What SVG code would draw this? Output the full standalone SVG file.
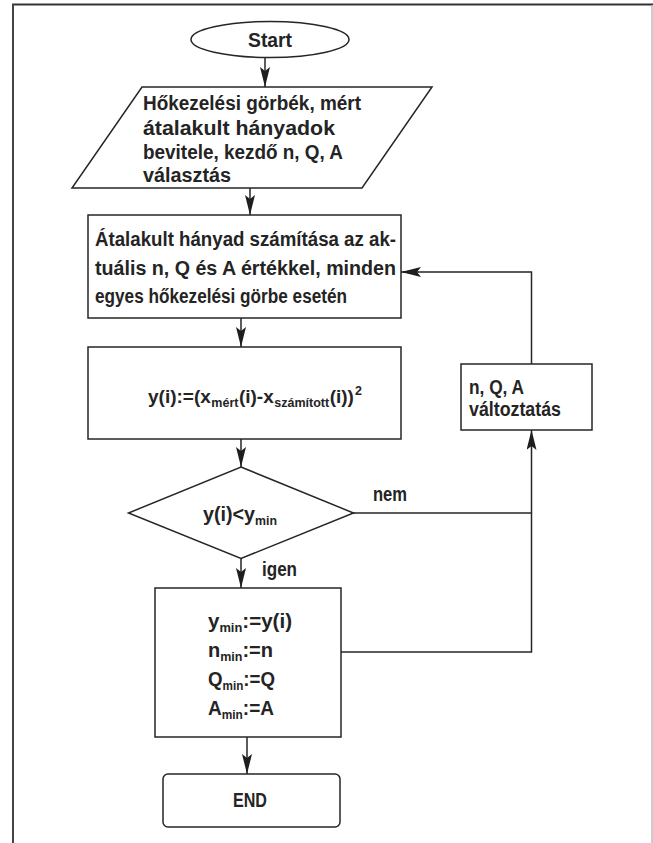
<svg xmlns="http://www.w3.org/2000/svg" width="653" height="843" viewBox="0 0 653 843">
<style>
.s{fill:#fff;stroke:#262626;stroke-width:1.5}
.c{fill:none;stroke:#262626;stroke-width:1.5}
.t{font-family:"Liberation Sans",Arial,sans-serif;font-weight:bold;font-size:20px;fill:#242424}
.f{font-size:19px}
.sub{font-size:12.5px}
</style>
<defs>
<marker id="ah" viewBox="0 0 20 10" refX="20" refY="5" markerWidth="20" markerHeight="10" markerUnits="userSpaceOnUse" orient="auto">
<path d="M0,0 L20,5 L0,10 L4,5 z" fill="#1e1e1e"/>
</marker>
</defs>
<rect x="0" y="0" width="653" height="843" fill="#fff"/>
<g id="frame">
<line x1="12" y1="4.5" x2="653" y2="4.5" stroke="#333" stroke-width="2"/>
<line x1="13" y1="4" x2="13" y2="843" stroke="#444" stroke-width="2"/>
<line x1="652" y1="5" x2="652" y2="843" stroke="#bbb" stroke-width="1.5"/>
</g>
<g id="connectors">
<line class="c" x1="265" y1="57.5" x2="265" y2="87" marker-end="url(#ah)"/>
<line class="c" x1="250" y1="188" x2="250" y2="215" marker-end="url(#ah)"/>
<line class="c" x1="241" y1="318" x2="241" y2="347" marker-end="url(#ah)"/>
<line class="c" x1="241" y1="439" x2="241" y2="467" marker-end="url(#ah)"/>
<line class="c" x1="241" y1="558" x2="241" y2="588" marker-end="url(#ah)"/>
<line class="c" x1="353" y1="513" x2="531.5" y2="513"/>
<polyline class="c" points="341,652 531.5,652 531.5,430" marker-end="url(#ah)"/>
<polyline class="c" points="531.5,364 531.5,272 401,272" marker-end="url(#ah)"/>
<line class="c" x1="247" y1="737" x2="247" y2="774" marker-end="url(#ah)"/>
<text class="t" x="373" y="501" textLength="34" lengthAdjust="spacingAndGlyphs">nem</text>
<text class="t" x="262" y="576" textLength="35" lengthAdjust="spacingAndGlyphs">igen</text>
</g>
<g id="start">
<ellipse class="s" cx="270" cy="39.5" rx="79" ry="18"/>
<text class="t" x="270" y="47" text-anchor="middle" textLength="44" lengthAdjust="spacingAndGlyphs">Start</text>
</g>
<g id="input">
<polygon class="s" points="142,87 432,87 362,188 72,188"/>
<text class="t" x="143" y="110" textLength="218" lengthAdjust="spacingAndGlyphs">Hőkezelési görbék, mért</text>
<text class="t" x="143" y="135" textLength="192" lengthAdjust="spacingAndGlyphs">átalakult hányadok</text>
<text class="t" x="143" y="159" textLength="200" lengthAdjust="spacingAndGlyphs">bevitele, kezdő n, Q, A</text>
<text class="t" x="143" y="182" textLength="88" lengthAdjust="spacingAndGlyphs">választás</text>
</g>
<g id="calc">
<rect class="s" x="88" y="215" width="313" height="103"/>
<text class="t" x="95" y="246" textLength="301" lengthAdjust="spacingAndGlyphs">Átalakult hányad számítása az ak-</text>
<text class="t" x="95" y="275" textLength="301" lengthAdjust="spacingAndGlyphs">tuális n, Q és A értékkel, minden</text>
<text class="t" x="95" y="303" textLength="252" lengthAdjust="spacingAndGlyphs">egyes hőkezelési görbe esetén</text>
</g>
<g id="error">
<rect class="s" x="88" y="347" width="313" height="92"/>
<text class="t f" x="148" y="403">y(i):=(x<tspan class="sub" dx="0.5" dy="4">mért</tspan><tspan dx="0.5" dy="-4">(i)-x</tspan><tspan class="sub" dx="0.5" dy="4">számított</tspan><tspan dx="0.5" dy="-4">(i))</tspan><tspan class="sub" dx="1" dy="-8">2</tspan></text>
</g>
<g id="change">
<rect class="s" x="461" y="364" width="131" height="66"/>
<text class="t" x="469" y="394" textLength="55" lengthAdjust="spacingAndGlyphs">n, Q, A</text>
<text class="t" x="469" y="416" textLength="92" lengthAdjust="spacingAndGlyphs">változtatás</text>
</g>
<g id="decision">
<polygon class="s" points="241,467 353.5,513 241,558.5 128.5,513"/>
<text class="t" x="203" y="521" textLength="74" lengthAdjust="spacingAndGlyphs">y(i)&lt;y<tspan class="sub" dy="4">min</tspan></text>
</g>
<g id="store">
<rect class="s" x="155" y="588" width="186" height="149"/>
<text class="t" x="208" y="628" textLength="84" lengthAdjust="spacingAndGlyphs">y<tspan class="sub" dy="4">min</tspan><tspan dy="-4">:=y(i)</tspan></text>
<text class="t" x="208" y="657" textLength="65" lengthAdjust="spacingAndGlyphs">n<tspan class="sub" dy="4">min</tspan><tspan dy="-4">:=n</tspan></text>
<text class="t" x="208" y="686" textLength="67" lengthAdjust="spacingAndGlyphs">Q<tspan class="sub" dy="4">min</tspan><tspan dy="-4">:=Q</tspan></text>
<text class="t" x="208" y="715" textLength="66" lengthAdjust="spacingAndGlyphs">A<tspan class="sub" dy="4">min</tspan><tspan dy="-4">:=A</tspan></text>
</g>
<g id="end">
<rect class="s" x="163" y="774" width="177" height="53" rx="5"/>
<text class="t" x="250" y="807" text-anchor="middle" textLength="34" lengthAdjust="spacingAndGlyphs">END</text>
</g>
</svg>
